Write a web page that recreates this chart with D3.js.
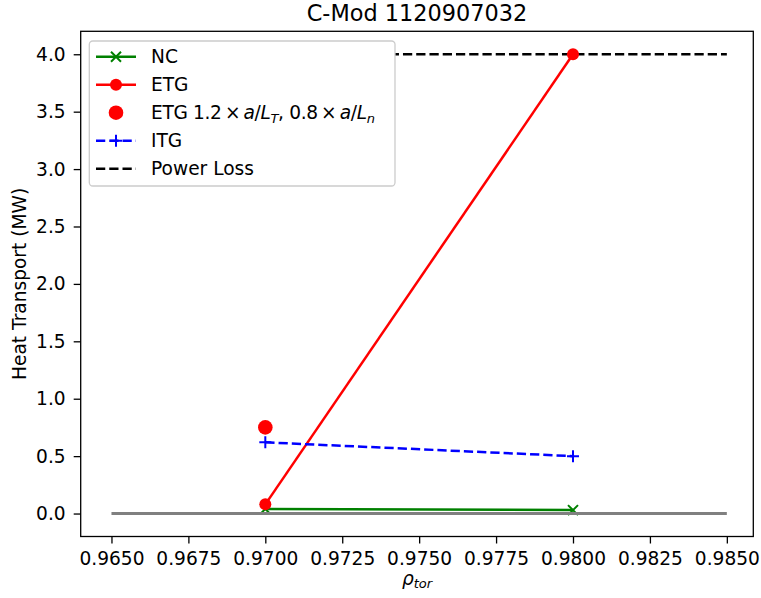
<!DOCTYPE html>
<html>
<head>
  <meta charset="utf-8">
  <script src="https://d3js.org/d3.v7.min.js"></script>
  <style>
    body { margin: 0; background: #fff; }
    text { font-family: "DejaVu Sans", sans-serif; }
  </style>
</head>
<body>
<script type="text/javascript">

  // data
  var rho = [0.970, 0.980];
  var ncValues = [0.04, 0.03];
  var etgValues = [0.08, 4.00];
  var itgValues = [0.62, 0.50];
  var etgScaledRho = [0.970];
  var etgScaledValues = [0.75];
  var powerLossRho = [0.965, 0.985];
  var powerLossValues = [4.0, 4.0];
  var zeroRho = [0.965, 0.985];
  var zeroValues = [0, 0];
  var xTicks = [0.9650, 0.9675, 0.9700, 0.9725, 0.9750, 0.9775, 0.9800, 0.9825, 0.9850];
  var yTicks = [0.0, 0.5, 1.0, 1.5, 2.0, 2.5, 3.0, 3.5, 4.0];

  var config = {
    width: 761, height: 598,
    plot: {left: 80.7, right: 753.3, top: 31.3, bottom: 536.5},
    fontSize: 18.6
  };

  var svg = d3.select("body").append("svg")
    .attr("width", config.width)
    .attr("height", config.height);

  var x = d3.scaleLinear().domain([0.964, 0.98586]).range([config.plot.left, config.plot.right]);
  var y = d3.scaleLinear().domain([-0.2, 4.2]).range([config.plot.bottom, config.plot.top]);

  var line = d3.line()
    .x(function(d) { return x(d[0]); })
    .y(function(d) { return y(d[1]); });

  function pairs(xs, ys) {
    return xs.map(function(v, i) { return [v, ys[i]]; });
  }

  // axes
  var xAxis = d3.axisBottom(x).tickValues(xTicks).tickFormat(d3.format(".4f")).tickSizeOuter(0).tickSize(7).tickPadding(8);
  var yAxis = d3.axisLeft(y).tickValues(yTicks).tickFormat(d3.format(".1f")).tickSizeOuter(0).tickSize(7).tickPadding(8);

  var gx = svg.append("g").attr("transform", "translate(0," + config.plot.bottom + ")").call(xAxis);
  var gy = svg.append("g").attr("transform", "translate(" + config.plot.left + ",0)").call(yAxis);

  [gx, gy].forEach(function(g) {
    g.select(".domain").remove();
    g.selectAll("line").attr("stroke", "#000").attr("stroke-width", 1.3);
    g.selectAll("text").attr("font-size", config.fontSize).attr("fill", "#000")
      .style("font-family", "'DejaVu Sans', sans-serif");
  });

  var plot = svg.append("g");

  // NC
  plot.append("path")
    .attr("d", line(pairs(rho, ncValues)))
    .attr("fill", "none").attr("stroke", "#008000").attr("stroke-width", 2.5);
  plot.selectAll(".nc").data(pairs(rho, ncValues)).enter().append("path")
    .attr("transform", function(d) { return "translate(" + x(d[0]) + "," + y(d[1]) + ")"; })
    .attr("d", "M-5,-5L5,5M-5,5L5,-5")
    .attr("stroke", "#008000").attr("stroke-width", 2);

  // Power loss
  plot.append("path")
    .attr("d", line(pairs(powerLossRho, powerLossValues)))
    .attr("fill", "none").attr("stroke", "#000").attr("stroke-width", 2.5)
    .attr("stroke-dasharray", "9.25,4");

  // zero line
  plot.append("path")
    .attr("d", line(pairs(zeroRho, zeroValues)))
    .attr("fill", "none").attr("stroke", "#808080").attr("stroke-width", 3);

  // ETG
  plot.append("path")
    .attr("d", line(pairs(rho, etgValues)))
    .attr("fill", "none").attr("stroke", "#ff0000").attr("stroke-width", 2.5);
  plot.selectAll(".etg").data(pairs(rho, etgValues)).enter().append("circle")
    .attr("cx", function(d) { return x(d[0]); })
    .attr("cy", function(d) { return y(d[1]); })
    .attr("r", 6).attr("fill", "#ff0000");

  // ETG scaled gradients
  plot.selectAll(".etgs").data(pairs(etgScaledRho, etgScaledValues)).enter().append("circle")
    .attr("cx", function(d) { return x(d[0]); })
    .attr("cy", function(d) { return y(d[1]); })
    .attr("r", 7.3).attr("fill", "#ff0000");

  // ITG
  plot.append("path")
    .attr("d", line(pairs(rho, itgValues)))
    .attr("fill", "none").attr("stroke", "#0000ff").attr("stroke-width", 2.5)
    .attr("stroke-dasharray", "9.25,4");
  plot.selectAll(".itg").data(pairs(rho, itgValues)).enter().append("path")
    .attr("transform", function(d) { return "translate(" + x(d[0]) + "," + y(d[1]) + ")"; })
    .attr("d", "M-6,0L6,0M0,-6L0,6")
    .attr("stroke", "#0000ff").attr("stroke-width", 2);

  // frame
  svg.append("rect")
    .attr("x", config.plot.left).attr("y", config.plot.top)
    .attr("width", config.plot.right - config.plot.left)
    .attr("height", config.plot.bottom - config.plot.top)
    .attr("fill", "none").attr("stroke", "#000").attr("stroke-width", 1.3);

  // legend
  var legend = svg.append("g");
  legend.append("rect")
    .attr("x", 89.3).attr("y", 41).attr("width", 305.7).attr("height", 145)
    .attr("rx", 3.5)
    .attr("fill", "#fff")
    .attr("stroke", "#cccccc").attr("stroke-width", 1.3);

  var items = [
    {label: "NC", color: "#008000", dash: null, line: true, marker: "x"},
    {label: "ETG", color: "#ff0000", dash: null, line: true, marker: "o"},
    {label: "ETGs", color: "#ff0000", dash: null, line: false, marker: "O"},
    {label: "ITG", color: "#0000ff", dash: "9.25,4", line: true, marker: "+"},
    {label: "Power Loss", color: "#000", dash: "9.25,4", line: true, marker: null}
  ];

  items.forEach(function(it, i) {
    var cy = 56.7 + i * 28;
    var g = legend.append("g").attr("transform", "translate(0," + cy + ")");
    if (it.line) {
      g.append("line").attr("x1", 96).attr("x2", 136).attr("y1", 0).attr("y2", 0)
        .attr("stroke", it.color).attr("stroke-width", 2.5)
        .attr("stroke-dasharray", it.dash);
    }
    if (it.marker === "x") {
      g.append("path").attr("transform", "translate(116,0)").attr("d", "M-5,-5L5,5M-5,5L5,-5")
        .attr("stroke", it.color).attr("stroke-width", 2);
    } else if (it.marker === "o") {
      g.append("circle").attr("cx", 116).attr("cy", 0).attr("r", 6).attr("fill", it.color);
    } else if (it.marker === "O") {
      g.append("circle").attr("cx", 116).attr("cy", 0).attr("r", 7.3).attr("fill", it.color);
    } else if (it.marker === "+") {
      g.append("path").attr("transform", "translate(116,0)").attr("d", "M-6,0L6,0M0,-6L0,6")
        .attr("stroke", it.color).attr("stroke-width", 2);
    }
    var t = g.append("text").attr("x", 151).attr("y", 0).attr("dy", "0.36em")
      .attr("font-size", config.fontSize).attr("fill", "#000");
    if (it.label === "ETGs") {
      t.attr("letter-spacing", -0.35);
      t.append("tspan").text("ETG 1.2\u2009\u00d7\u2009");
      t.append("tspan").attr("font-style", "italic").text("a");
      t.append("tspan").text("/");
      t.append("tspan").attr("font-style", "italic").text("L");
      t.append("tspan").attr("font-style", "italic").attr("font-size", config.fontSize * 0.7).attr("dy", "0.25em").text("T");
      t.append("tspan").attr("dy", "-0.18em").text(", 0.8\u2009\u00d7\u2009");
      t.append("tspan").attr("font-style", "italic").text("a");
      t.append("tspan").text("/");
      t.append("tspan").attr("font-style", "italic").text("L");
      t.append("tspan").attr("font-style", "italic").attr("font-size", config.fontSize * 0.7).attr("dy", "0.25em").text("n");
    } else {
      t.text(it.label);
    }
  });

  // title and labels
  svg.append("text")
    .attr("x", (config.plot.left + config.plot.right) / 2).attr("y", 21)
    .attr("text-anchor", "middle").attr("font-size", 22.4).text("C-Mod 1120907032");

  svg.append("text")
    .attr("transform", "translate(26," + ((config.plot.top + config.plot.bottom) / 2) + ") rotate(-90)")
    .attr("text-anchor", "middle").attr("font-size", config.fontSize).text("Heat Transport (MW)");

  var xl = svg.append("text")
    .attr("x", (config.plot.left + config.plot.right) / 2).attr("y", 585)
    .attr("text-anchor", "middle").attr("font-size", config.fontSize).attr("font-style", "italic");
  xl.append("tspan").text("\u03c1");
  xl.append("tspan").attr("font-size", config.fontSize * 0.7).attr("dy", "0.25em").text("tor");

</script>
</body>
</html>
